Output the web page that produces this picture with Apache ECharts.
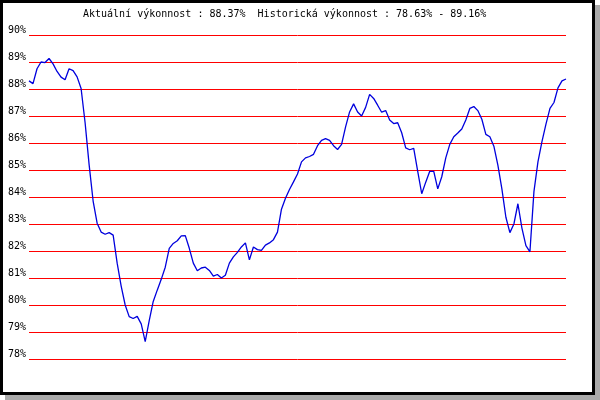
<!DOCTYPE html>
<html>
<head>
<meta charset="utf-8">
<script src="https://cdn.jsdelivr.net/npm/echarts@6/dist/echarts.min.js"></script>
<style>
html,body{margin:0;padding:0;background:#fff;}
#c{width:600px;height:400px;}
</style>
</head>
<body>
<div id="c"></div>
<script>
const titleText = 'Aktuální výkonnost : 88.37%  Historická výkonnost : 78.63% - 89.16%';
const yTicks = [78, 79, 80, 81, 82, 83, 84, 85, 86, 87, 88, 89, 90];
const performance = [
  88.30, 88.20, 88.75, 89.00, 88.98, 89.13, 88.93, 88.65, 88.44, 88.34,
  88.75, 88.68, 88.45, 88.02, 86.75, 85.20, 83.85, 83.03, 82.70, 82.62,
  82.68, 82.59, 81.55, 80.70, 80.00, 79.57, 79.50, 79.58, 79.30, 78.64,
  79.42, 80.13, 80.55, 80.95, 81.40, 82.10, 82.28, 82.38, 82.56, 82.57,
  82.10, 81.55, 81.27, 81.37, 81.40, 81.28, 81.07, 81.13, 81.00, 81.10,
  81.55, 81.78, 81.95, 82.15, 82.30, 81.67, 82.15, 82.05, 82.02, 82.22,
  82.30, 82.42, 82.70, 83.55, 83.95, 84.28, 84.56, 84.85, 85.30, 85.45,
  85.50, 85.58, 85.90, 86.10, 86.16, 86.10, 85.90, 85.76, 85.95, 86.60,
  87.15, 87.45, 87.15, 87.00, 87.32, 87.80, 87.65, 87.40, 87.14, 87.20,
  86.85, 86.72, 86.75, 86.38, 85.82, 85.75, 85.80, 84.95, 84.12, 84.55,
  84.95, 84.95, 84.30, 84.75, 85.45, 85.95, 86.23, 86.37, 86.52, 86.85,
  87.28, 87.35, 87.20, 86.88, 86.32, 86.23, 85.88, 85.18, 84.30, 83.25,
  82.68, 83.00, 83.75, 82.85, 82.20, 81.97, 84.20, 85.30, 86.05, 86.70,
  87.28, 87.50, 88.04, 88.30, 88.37
];
const categories = performance.map((_, i) => String(i + 1));

const chart = echarts.init(document.getElementById('c'), null, {renderer: 'canvas'});
chart.setOption({
  animation: false,
  backgroundColor: '#ffffff',
  graphic: [
    {type: 'rect', z: -10, silent: true, shape: {x: 5, y: 5, width: 595, height: 395}, style: {fill: '#aaaaaa'}},
    {type: 'rect', z: -9, silent: true, shape: {x: 1.5, y: 1.5, width: 592, height: 392}, style: {fill: '#ffffff', stroke: '#000000', lineWidth: 3}}
  ],
  title: {
    text: titleText,
    left: 83,
    top: 9,
    padding: 0,
    textStyle: {fontFamily: 'DejaVu Sans Mono', fontSize: 10, fontWeight: 'normal', color: '#000000'}
  },
  grid: {left: 29, right: 34, top: 35, bottom: 41, containLabel: false},
  xAxis: {
    type: 'category',
    data: categories,
    boundaryGap: false,
    axisLine: {show: false},
    axisTick: {show: false},
    axisLabel: {show: false},
    splitLine: {show: false}
  },
  yAxis: {
    type: 'value',
    min: yTicks[0],
    max: yTicks[yTicks.length - 1],
    interval: 1,
    axisLine: {show: false},
    axisTick: {show: false},
    axisLabel: {
      formatter: '{value}%',
      fontFamily: 'DejaVu Sans Mono',
      fontSize: 10,
      color: '#000000',
      margin: 3,
      verticalAlign: 'bottom',
      lineHeight: 10
    },
    splitLine: {show: true, lineStyle: {color: '#ff0000', width: 1}}
  },
  series: [{
    type: 'line',
    data: performance,
    symbol: 'none',
    smooth: false,
    lineStyle: {color: '#0000dd', width: 1.3}
  }]
});
</script>
</body>
</html>
